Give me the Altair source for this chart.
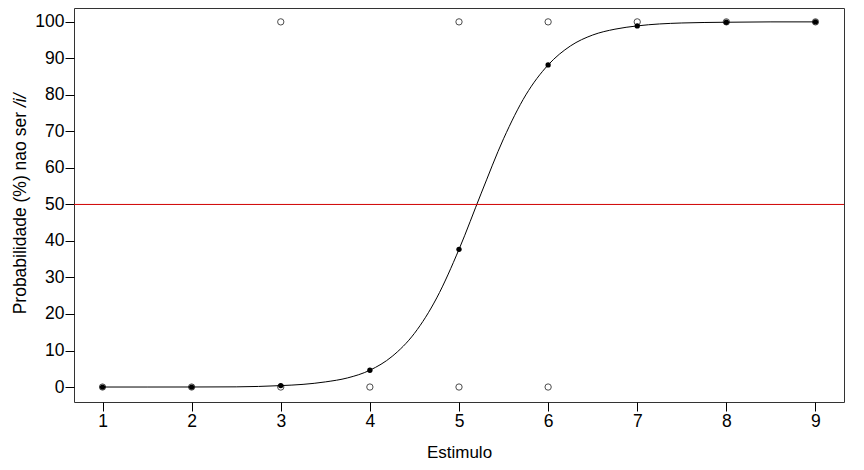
import altair as alt
import pandas as pd

# Observed responses (open circles)
obs_x = [1, 2, 3, 3, 4, 5, 5, 6, 6, 7, 8, 9]
obs_y = [0, 0, 0, 100, 0, 0, 100, 0, 100, 100, 100, 100]

# Fitted probabilities per stimulus (filled dots)
stimulus = [1, 2, 3, 4, 5, 6, 7, 8, 9]
fitted = [0, 0, 0.4, 4.6, 37.7, 88.2, 98.9, 99.9, 100]

# Fitted curve
curve_x = [1, 1.5, 2, 2.5, 3, 3.25, 3.5, 3.75, 4, 4.25, 4.5, 4.75, 5, 5.25,
           5.5, 5.75, 6, 6.25, 6.5, 6.75, 7, 7.5, 8, 8.5, 9]
curve_y = [0, 0, 0.01, 0.05, 0.39, 0.73, 1.4, 2.5, 4.6, 8.4, 14.7, 24.4, 37.7,
           53.1, 68.0, 80.0, 88.2, 93.4, 96.4, 98.0, 98.9, 99.7, 99.9, 100, 100]

threshold = [50]
x_ticks = [1, 2, 3, 4, 5, 6, 7, 8, 9]
y_ticks = [0, 10, 20, 30, 40, 50, 60, 70, 80, 90, 100]
y_title_main = "Probabilidade (%) nao ser"
y_title_ital = "/i/"

obs_df = pd.DataFrame({"x": obs_x, "y": obs_y})
fit_df = pd.DataFrame({"x": stimulus, "y": fitted})
curve_df = pd.DataFrame({"x": curve_x, "y": curve_y})
thr_df = pd.DataFrame({"y": threshold})
title_df = pd.DataFrame({"t": [y_title_main]})
ital_df = pd.DataFrame({"t": [y_title_ital]})

xscale = alt.Scale(domain=[0.68, 9.32], nice=False, zero=False)
yscale = alt.Scale(domain=[-4.1, 103.8], nice=False, zero=False)

xaxis = alt.Axis(values=x_ticks, title="Estimulo", format="d",
                 labelOverlap=False, tickCount=9)
yaxis = alt.Axis(values=y_ticks, title=None, format="d",
                 labelOverlap=False, tickCount=11)

X = alt.X("x:Q", scale=xscale, axis=xaxis)
Y = alt.Y("y:Q", scale=yscale, axis=yaxis)

circles = alt.Chart(obs_df).mark_point(
    shape="circle", filled=False, color="black", size=40, strokeWidth=1
).encode(x=X, y=Y)

curve = alt.Chart(curve_df).mark_line(
    color="black", strokeWidth=1, interpolate="monotone"
).encode(x=X, y=Y)

dots = alt.Chart(fit_df).mark_circle(color="black", size=28, opacity=1).encode(
    x=X, y=Y)

rule = alt.Chart(thr_df).mark_rule(color="#D00000", strokeWidth=1).encode(
    y=Y)

t_main = alt.Chart(title_df).mark_text(
    angle=270, align="right", baseline="middle", fontSize=17.5,
    font="Liberation Sans", color="black"
).encode(text="t:N", x=alt.value(-53), y=alt.value(104))

t_ital = alt.Chart(ital_df).mark_text(
    angle=270, align="left", baseline="middle", fontSize=17.5,
    font="Liberation Sans", fontStyle="italic", color="black"
).encode(text="t:N", x=alt.value(-53), y=alt.value(99))

chart = alt.layer(circles, curve, dots, rule, t_main, t_ital).properties(
    width=770, height=394,
    autosize=alt.AutoSizeParams(type="none"),
    padding={"left": 66, "top": 0, "right": 10, "bottom": 60},
).configure(
    font="Liberation Sans"
).configure_view(
    stroke="#333333", strokeWidth=1
).configure_axis(
    grid=False, domain=False, tickColor="black", tickSize=9,
    labelFontSize=17.5, labelColor="black", labelPadding=1,
    titleFontSize=17, titleFontWeight="normal", titleColor="black",
    titlePadding=15, labelFont="Liberation Sans", titleFont="Liberation Sans"
)

chart.save("out.html", embed_options={"renderer": "svg", "actions": False})
